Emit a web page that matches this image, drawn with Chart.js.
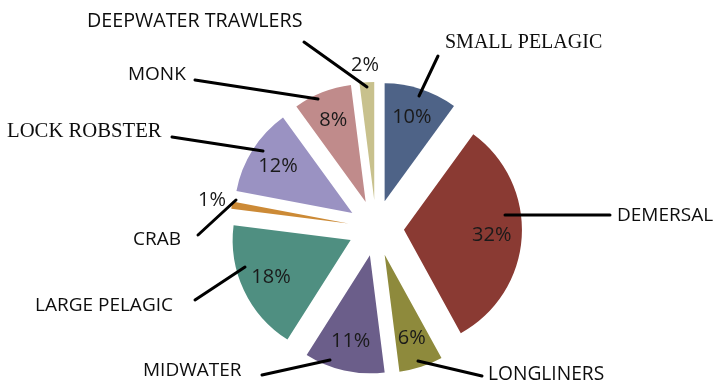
<!DOCTYPE html>
<html>
<head>
<meta charset="utf-8">
<script src="https://cdn.jsdelivr.net/npm/chart.js@4"></script>
<style>
html,body{margin:0;padding:0;background:#fff;}
#wrap{width:720px;height:389px;position:relative;}
</style>
</head>
<body>
<div id="wrap"><canvas id="c"></canvas></div>
<script>
// ---- data ----
const categories = ['SMALL PELAGIC','DEMERSAL','LONGLINERS','MIDWATER','LARGE PELAGIC','CRAB','LOCK ROBSTER','MONK','DEEPWATER TRAWLERS'];
const shares = [10, 32, 6, 11, 18, 1, 12, 8, 2];
const percentText = shares.map(v => v + '%');

// ---- styles / layout ----
const sliceColors = ['#4e6387','#8a3a33','#8e8a3c','#6b5e8a','#4f8f81','#cc8a36','#9a92c2','#c08b8b','#c8c18d'];
const EXPLODE = 28;
const PCT_DIST = 88;
const SANS = '"Open Sans", sans-serif';
const SERIF = '"Liberation Serif", "Times New Roman", serif';
const labelLayout = [
  {x:445, y:43,  font:'20px ' + SERIF,   line:[438,56,419,96]},
  {x:617, y:216, font:'19px ' + SANS,    line:[505,215,610,215]},
  {x:488, y:375, font:'19.2px ' + SANS,  line:[418,361,482,376]},
  {x:143, y:371, font:'19px ' + SANS,    line:[262,375,330,360]},
  {x:35,  y:306, font:'19px ' + SANS,    line:[195,300,245,267]},
  {x:133, y:240, font:'19px ' + SANS,    line:[198,235,236,200]},
  {x:7,   y:132, font:'20.7px ' + SERIF, line:[172,137,263,151]},
  {x:128, y:75,  font:'19px ' + SANS,    line:[195,80,318,99]},
  {x:87,  y:21,  font:'19.7px ' + SANS,  line:[304,42,367,87]}
];
const outsidePct = {5:[212,200], 8:[365,65]};

// explode every slice outward along its bisector
const origArcDraw = Chart.ArcElement.prototype.draw;
Chart.ArcElement.prototype.draw = function(ctx){
  const half = (this.startAngle + this.endAngle) / 2;
  ctx.save();
  ctx.translate(Math.cos(half) * EXPLODE, Math.sin(half) * EXPLODE);
  origArcDraw.call(this, ctx);
  ctx.restore();
};

const labelPlugin = {
  id: 'pieLabels',
  afterDatasetsDraw(chart){
    const ctx = chart.ctx;
    const meta = chart.getDatasetMeta(0);
    ctx.save();
    // leader lines
    ctx.strokeStyle = '#000';
    ctx.lineWidth = 3;
    ctx.lineCap = 'round';
    labelLayout.forEach(l => {
      ctx.beginPath();
      ctx.moveTo(l.line[0], l.line[1]);
      ctx.lineTo(l.line[2], l.line[3]);
      ctx.stroke();
    });
    // category names
    ctx.fillStyle = '#0d0d0d';
    ctx.textBaseline = 'middle';
    ctx.textAlign = 'left';
    categories.forEach((c, i) => {
      const l = labelLayout[i];
      ctx.font = l.font;
      ctx.fillText(c, l.x, l.y);
    });
    // percentages
    ctx.font = '20px ' + SANS;
    ctx.textAlign = 'center';
    ctx.fillStyle = '#1a1a1a';
    meta.data.forEach((arc, i) => {
      let px, py;
      if (outsidePct[i]) { px = outsidePct[i][0]; py = outsidePct[i][1]; }
      else {
        const half = (arc.startAngle + arc.endAngle) / 2;
        const d = EXPLODE + PCT_DIST;
        px = arc.x + Math.cos(half) * d;
        py = arc.y + Math.sin(half) * d;
      }
      ctx.fillText(percentText[i], px, py);
    });
    ctx.restore();
  }
};

new Chart(document.getElementById('c'), {
  type: 'pie',
  data: {
    labels: categories,
    datasets: [{
      data: shares,
      backgroundColor: sliceColors,
      borderWidth: 0
    }]
  },
  options: {
    responsive: true,
    maintainAspectRatio: false,
    animation: false,
    layout: { padding: { top: 110, bottom: 43, left: 32, right: 0 } },
    plugins: { legend: { display: false }, tooltip: { enabled: false }, title: { display: false } }
  },
  plugins: [labelPlugin]
});
</script>
</body>
</html>
